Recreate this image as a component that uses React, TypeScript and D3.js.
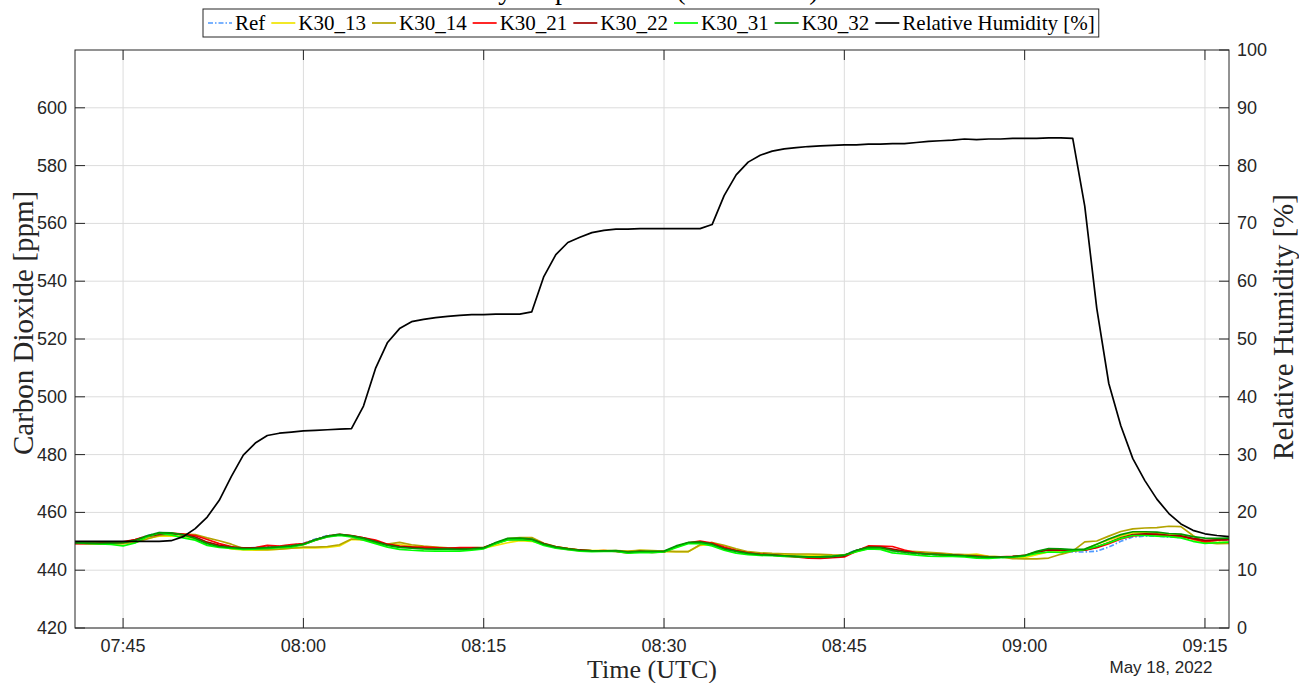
import React, { useMemo } from "react";
import * as d3 from "d3";

// ---------------- DATA ----------------
const startTimeUTC = Date.UTC(2022, 4, 18, 7, 41); // first sample, 1-minute sampling
const axisStart = Date.UTC(2022, 4, 18, 7, 41);
const axisEnd = Date.UTC(2022, 4, 18, 9, 17);

const ref = [449.5, 449.4, 449.3, 449.4, 449.6, 450.4, 452.0, 453.0, 452.8, 452.2, 451.4, 449.5, 448.5, 448.0, 447.6, 447.8, 448.0, 448.3, 448.6, 449.3, 450.8, 452.0, 452.4, 451.8, 450.9, 449.8, 448.7, 448.1, 447.8, 447.6, 447.5, 447.4, 447.4, 447.5, 447.8, 449.5, 450.8, 450.8, 450.5, 448.9, 448.0, 447.4, 446.9, 446.6, 446.6, 446.7, 446.1, 446.4, 446.4, 446.5, 448.2, 449.4, 449.5, 448.8, 447.3, 446.5, 445.8, 445.4, 445.2, 445.0, 444.9, 444.7, 444.7, 444.9, 445.3, 447.0, 447.9, 447.6, 446.5, 446.0, 445.6, 445.4, 445.3, 445.2, 445.0, 444.7, 444.4, 444.4, 444.6, 445.0, 446.0, 446.3, 446.4, 446.3, 446.3, 446.6, 448.0, 450.0, 451.5, 451.8, 451.8, 451.5, 451.3, 450.5, 449.8, 450.2, 450.4];
const k30_13 = [449.4, 449.3, 449.2, 449.0, 449.2, 449.8, 451.0, 451.8, 451.9, 451.7, 451.0, 449.6, 448.4, 447.4, 447.0, 446.9, 447.0, 447.3, 447.6, 447.7, 447.7, 447.9, 448.4, 450.6, 450.6, 449.6, 448.8, 448.9, 448.3, 447.9, 447.7, 447.6, 447.5, 447.4, 447.6, 448.6, 449.5, 450.2, 450.0, 448.9, 448.0, 447.6, 447.0, 446.8, 446.9, 446.6, 446.4, 446.9, 446.7, 446.4, 446.4, 446.4, 448.6, 448.9, 447.6, 446.8, 446.0, 445.8, 445.6, 445.4, 445.3, 445.2, 445.0, 445.0, 445.2, 446.4, 447.6, 447.6, 446.8, 446.3, 445.9, 445.8, 445.5, 445.3, 445.3, 445.6, 444.8, 444.6, 444.4, 444.3, 445.4, 446.3, 446.4, 446.6, 447.2, 449.0, 450.5, 451.8, 452.9, 452.9, 452.8, 452.4, 452.3, 450.6, 449.7, 449.6, 449.6];
const k30_14 = [449.4, 449.2, 449.1, 449.2, 449.3, 449.6, 450.8, 452.0, 452.3, 452.5, 452.3, 451.2, 450.2, 449.0, 447.5, 447.2, 447.1, 447.3, 447.6, 448.0, 448.0, 448.2, 448.8, 450.8, 450.6, 449.4, 449.0, 449.6, 448.8, 448.3, 448.0, 447.7, 447.6, 447.7, 447.9, 449.2, 450.9, 451.3, 451.3, 449.3, 448.2, 447.5, 447.0, 446.8, 446.7, 446.8, 446.6, 446.9, 446.8, 446.6, 446.4, 446.4, 448.8, 449.6, 448.6, 447.4, 446.4, 446.0, 445.8, 445.7, 445.6, 445.6, 445.5, 445.3, 445.2, 446.6, 447.5, 447.6, 447.0, 446.6, 446.4, 446.2, 445.9, 445.6, 445.4, 445.1, 444.8, 444.6, 444.0, 443.9, 443.9, 444.2, 445.5, 446.6, 449.8, 450.1, 451.8, 453.4, 454.3, 454.6, 454.7, 455.2, 455.1, 452.0, 449.6, 449.2, 449.3];
const k30_21 = [449.2, 449.3, 449.4, 449.6, 449.8, 450.6, 451.8, 452.6, 452.8, 452.5, 452.0, 450.6, 449.2, 448.2, 447.3, 447.8, 448.6, 448.3, 448.9, 449.2, 450.5, 451.8, 452.4, 452.0, 451.2, 450.4, 449.0, 448.3, 448.1, 448.0, 447.8, 447.6, 447.8, 447.8, 447.7, 449.4, 450.7, 450.6, 450.4, 449.0, 447.8, 447.2, 446.8, 446.6, 446.8, 446.5, 446.0, 446.5, 446.2, 446.3, 448.0, 449.5, 450.1, 449.4, 448.0, 446.8, 446.0, 445.5, 445.2, 444.9, 444.6, 444.2, 444.1, 444.3, 444.6, 446.6, 448.4, 448.3, 448.2, 447.0, 446.0, 445.6, 445.4, 445.2, 445.0, 444.8, 444.6, 444.6, 444.8, 445.1, 446.3, 447.2, 447.0, 446.9, 446.9, 447.8, 449.2, 450.8, 451.9, 452.2, 452.2, 451.8, 451.6, 450.8, 449.8, 450.4, 450.6];
const k30_22 = [449.3, 449.3, 449.4, 449.5, 449.6, 450.5, 451.6, 452.4, 452.7, 452.3, 451.5, 449.7, 448.6, 448.0, 447.7, 447.7, 447.9, 448.0, 448.3, 448.9, 450.4, 451.6, 452.2, 451.9, 451.2, 450.0, 448.9, 448.2, 447.9, 447.6, 447.5, 447.6, 447.5, 447.6, 447.8, 449.3, 450.6, 450.8, 450.6, 449.2, 448.1, 447.5, 447.0, 446.7, 446.7, 446.6, 446.2, 446.4, 446.3, 446.4, 448.1, 449.4, 449.8, 449.1, 447.6, 446.7, 445.9, 445.5, 445.3, 445.0, 444.7, 444.4, 444.3, 444.5, 444.9, 446.8, 448.0, 448.0, 447.3, 446.5, 445.9, 445.6, 445.4, 445.2, 445.0, 444.8, 444.5, 444.5, 444.7, 445.0, 446.2, 447.0, 446.9, 446.8, 446.9, 448.0, 449.6, 451.2, 452.3, 452.6, 452.5, 452.1, 451.9, 451.0, 450.3, 450.5, 450.7];
const k30_31 = [449.6, 449.3, 449.1, 448.9, 448.4, 449.4, 451.6, 452.8, 452.2, 451.2, 450.4, 448.6, 447.9, 447.5, 447.2, 447.3, 447.5, 447.8, 448.0, 448.8, 450.4, 451.5, 452.0, 451.5, 450.4, 449.2, 448.0, 447.2, 446.9, 446.7, 446.6, 446.6, 446.6, 446.9, 447.4, 449.2, 450.5, 450.6, 450.2, 448.6, 447.6, 447.1, 446.6, 446.4, 446.5, 446.5, 445.9, 446.1, 446.1, 446.3, 447.8, 449.2, 449.3, 448.4, 446.9, 445.9, 445.4, 445.1, 445.0, 444.8, 444.7, 444.6, 444.6, 444.8, 445.2, 446.4, 447.4, 447.2, 446.0, 445.6, 445.2, 444.9, 444.8, 444.8, 444.6, 444.2, 444.1, 444.3, 444.5, 444.9, 445.8, 446.3, 446.2, 446.7, 447.1, 448.2, 449.5, 451.0, 452.0, 452.0, 451.8, 451.6, 451.2, 450.0, 449.3, 449.5, 449.7];
const k30_32 = [449.5, 449.4, 449.3, 449.4, 449.5, 450.3, 451.9, 453.0, 452.9, 452.2, 451.0, 449.2, 448.2, 447.8, 447.5, 447.6, 447.8, 448.1, 448.4, 449.0, 450.6, 451.8, 452.4, 451.9, 451.0, 449.8, 448.6, 447.9, 447.6, 447.4, 447.3, 447.3, 447.2, 447.4, 447.7, 449.6, 451.0, 451.1, 450.8, 449.0, 448.0, 447.4, 446.9, 446.7, 446.7, 446.8, 446.3, 446.5, 446.5, 446.6, 448.4, 449.6, 449.7, 449.0, 447.4, 446.5, 445.8, 445.4, 445.2, 445.0, 444.8, 444.6, 444.6, 444.8, 445.2, 446.9, 447.9, 447.8, 446.8, 446.2, 445.8, 445.6, 445.4, 445.2, 445.0, 444.7, 444.5, 444.5, 444.7, 445.1, 446.5, 447.5, 447.4, 447.1, 447.3, 449.0, 450.8, 452.3, 453.3, 453.3, 453.2, 452.7, 452.5, 451.6, 451.1, 451.0, 451.1];
const relHumidity = [15.0, 15.0, 15.0, 15.0, 15.0, 15.0, 15.0, 15.0, 15.1, 15.8, 17.2, 19.2, 22.1, 26.2, 29.9, 32.0, 33.3, 33.7, 33.9, 34.1, 34.2, 34.3, 34.4, 34.5, 38.4, 44.9, 49.4, 51.8, 53.0, 53.4, 53.7, 53.9, 54.1, 54.2, 54.2, 54.3, 54.3, 54.3, 54.7, 60.8, 64.6, 66.7, 67.6, 68.4, 68.8, 69.0, 69.0, 69.1, 69.1, 69.1, 69.1, 69.1, 69.1, 69.8, 74.8, 78.4, 80.6, 81.8, 82.5, 82.9, 83.1, 83.3, 83.4, 83.5, 83.6, 83.6, 83.7, 83.7, 83.8, 83.8, 84.0, 84.2, 84.3, 84.4, 84.6, 84.5, 84.6, 84.6, 84.7, 84.7, 84.7, 84.8, 84.8, 84.7, 73.0, 55.3, 42.3, 35.0, 29.3, 25.5, 22.3, 19.8, 18.0, 16.9, 16.3, 16.0, 15.8];

const co2Series = [
  { name: "Ref", values: ref, color: "#4D99FF", dash: "5,2,1.5,2" },
  { name: "K30_13", values: k30_13, color: "#F0E400", dash: null },
  { name: "K30_14", values: k30_14, color: "#B3A400", dash: null },
  { name: "K30_21", values: k30_21, color: "#FF0000", dash: null },
  { name: "K30_22", values: k30_22, color: "#A00000", dash: null },
  { name: "K30_31", values: k30_31, color: "#00FF00", dash: null },
  { name: "K30_32", values: k30_32, color: "#009900", dash: null },
];
const rhSeries = { name: "Relative Humidity [%]", values: relHumidity, color: "#000000", dash: null };

const co2Ticks = [420, 440, 460, 480, 500, 520, 540, 560, 580, 600];
const rhTicks = [0, 10, 20, 30, 40, 50, 60, 70, 80, 90, 100];

const titleText = "Humidity Step Increase (K30 Series)";
const xLabel = "Time (UTC)";
const yLeftLabel = "Carbon Dioxide [ppm]";
const yRightLabel = "Relative Humidity [%]";
const dateLabel = "May 18, 2022";

// ---------------- LAYOUT ----------------
const W = 1299;
const H = 683;
const L = 75, R = 1229, T = 50, B = 628;
const AX = "#262626";
const GRID = "#dcdcdc";
const SANS = "'Liberation Sans', Arial, Helvetica, sans-serif";
const SERIF = "'Liberation Serif', 'Times New Roman', Times, serif";
const TICK_FS = 18;

export default function App() {
  const x = d3.scaleUtc().domain([new Date(axisStart), new Date(axisEnd)]).range([L, R]);
  const yL = d3.scaleLinear().domain([420, 620]).range([B, T]);
  const yR = d3.scaleLinear().domain([0, 100]).range([B, T]);
  const times = relHumidity.map((_, i) => new Date(startTimeUTC + i * 60000));
  const xTicks = x.ticks(d3.utcMinute.every(15) as any);
  const fmt = d3.utcFormat("%H:%M");

  const lineL = d3.line<number>().x((_, i) => x(times[i])).y((d) => yL(d));
  const lineR = d3.line<number>().x((_, i) => x(times[i])).y((d) => yR(d));

  const legendFontSize = 21;
  const legend = useMemo(() => {
    const c = document.createElement("canvas").getContext("2d")!;
    c.font = `${legendFontSize}px ${SERIF}`;
    const items = [...co2Series, rhSeries];
    let cur = 203 + 5;
    const out: any[] = [];
    items.forEach((s) => {
      const w = c.measureText(s.name).width;
      out.push({ s, x0: cur, tx: cur + 27, w });
      cur = cur + 27 + w + 6;
    });
    const right = out[out.length - 1].tx + out[out.length - 1].w + 4;
    return { out, right };
  }, []);

  return (
    <div style={{ position: "absolute", left: 0, top: 0, width: W, height: H, background: "#fff" }}>
      <svg width={W} height={H} style={{ display: "block" }}>
        <rect x={0} y={0} width={W} height={H} fill="#fff" />
        {/* title: lies above the top edge, only descenders remain visible, as in the reference */}
        <text x={405} y={-1} textAnchor="start" fontFamily={SERIF} fontSize={28} fill="#000">
          {titleText}
        </text>

        <rect x={L} y={T} width={R - L} height={B - T} fill="#fff" />

        {/* grid */}
        {xTicks.map((t, i) => (
          <line key={"gx" + i} x1={x(t)} x2={x(t)} y1={T} y2={B} stroke={GRID} strokeWidth={1} />
        ))}
        {co2Ticks.map((v, i) => (
          <line key={"gy" + i} x1={L} x2={R} y1={yL(v)} y2={yL(v)} stroke={GRID} strokeWidth={1} />
        ))}

        {/* data */}
        <g fill="none" strokeLinejoin="round">
          {co2Series.map((s) => (
            <path key={s.name} d={lineL(s.values) || ""} stroke={s.color} strokeWidth={1.7} strokeDasharray={s.dash || undefined} />
          ))}
          <path d={lineR(rhSeries.values) || ""} stroke={rhSeries.color} strokeWidth={1.7} />
        </g>

        {/* axes box */}
        <rect x={L} y={T} width={R - L} height={B - T} fill="none" stroke={AX} strokeWidth={1} />

        {/* x ticks */}
        {xTicks.map((t, i) => (
          <g key={"xt" + i}>
            <line x1={x(t)} x2={x(t)} y1={B} y2={B - 10} stroke={AX} />
            <line x1={x(t)} x2={x(t)} y1={T} y2={T + 10} stroke={AX} />
            <text x={x(t)} y={646} textAnchor="middle" dominantBaseline="central" fontFamily={SANS} fontSize={TICK_FS} fill={AX}>
              {fmt(t)}
            </text>
          </g>
        ))}
        {/* left ticks */}
        {co2Ticks.map((v, i) => (
          <g key={"yl" + i}>
            <line x1={L} x2={L + 10} y1={yL(v)} y2={yL(v)} stroke={AX} />
            <text x={67} y={yL(v)} textAnchor="end" dominantBaseline="central" fontFamily={SANS} fontSize={TICK_FS} fill={AX}>
              {v}
            </text>
          </g>
        ))}
        {/* right ticks */}
        {rhTicks.map((v, i) => (
          <g key={"yr" + i}>
            <line x1={R} x2={R - 10} y1={yR(v)} y2={yR(v)} stroke={AX} />
            <text x={1237} y={yR(v)} textAnchor="start" dominantBaseline="central" fontFamily={SANS} fontSize={TICK_FS} fill={AX}>
              {v}
            </text>
          </g>
        ))}

        {/* axis labels */}
        <text x={(L + R) / 2} y={669} textAnchor="middle" dominantBaseline="central" fontFamily={SERIF} fontSize={26} fill={AX}>
          {xLabel}
        </text>
        <text x={1161} y={667} textAnchor="middle" dominantBaseline="central" fontFamily={SANS} fontSize={TICK_FS - 1} fill={AX}>
          {dateLabel}
        </text>
        <text transform={`translate(23,${(T + B) / 2 - 16}) rotate(-90)`} textAnchor="middle" dominantBaseline="central" fontFamily={SERIF} fontSize={29} fill={AX}>
          {yLeftLabel}
        </text>
        <text transform={`translate(1283,${(T + B) / 2 - 12}) rotate(-90)`} textAnchor="middle" dominantBaseline="central" fontFamily={SERIF} fontSize={29} fill={AX}>
          {yRightLabel}
        </text>

        {/* legend */}
        <rect x={203} y={9} width={legend.right - 203} height={28} fill="#fff" stroke={AX} strokeWidth={1} />
        {legend.out.map((it: any) => (
          <g key={it.s.name}>
            <line x1={it.x0} x2={it.x0 + 24} y1={23} y2={23} stroke={it.s.color} strokeWidth={1.7} strokeDasharray={it.s.dash || undefined} />
            <text x={it.tx} y={23} dominantBaseline="central" fontFamily={SERIF} fontSize={legendFontSize} fill="#000">
              {it.s.name}
            </text>
          </g>
        ))}
      </svg>
    </div>
  );
}
